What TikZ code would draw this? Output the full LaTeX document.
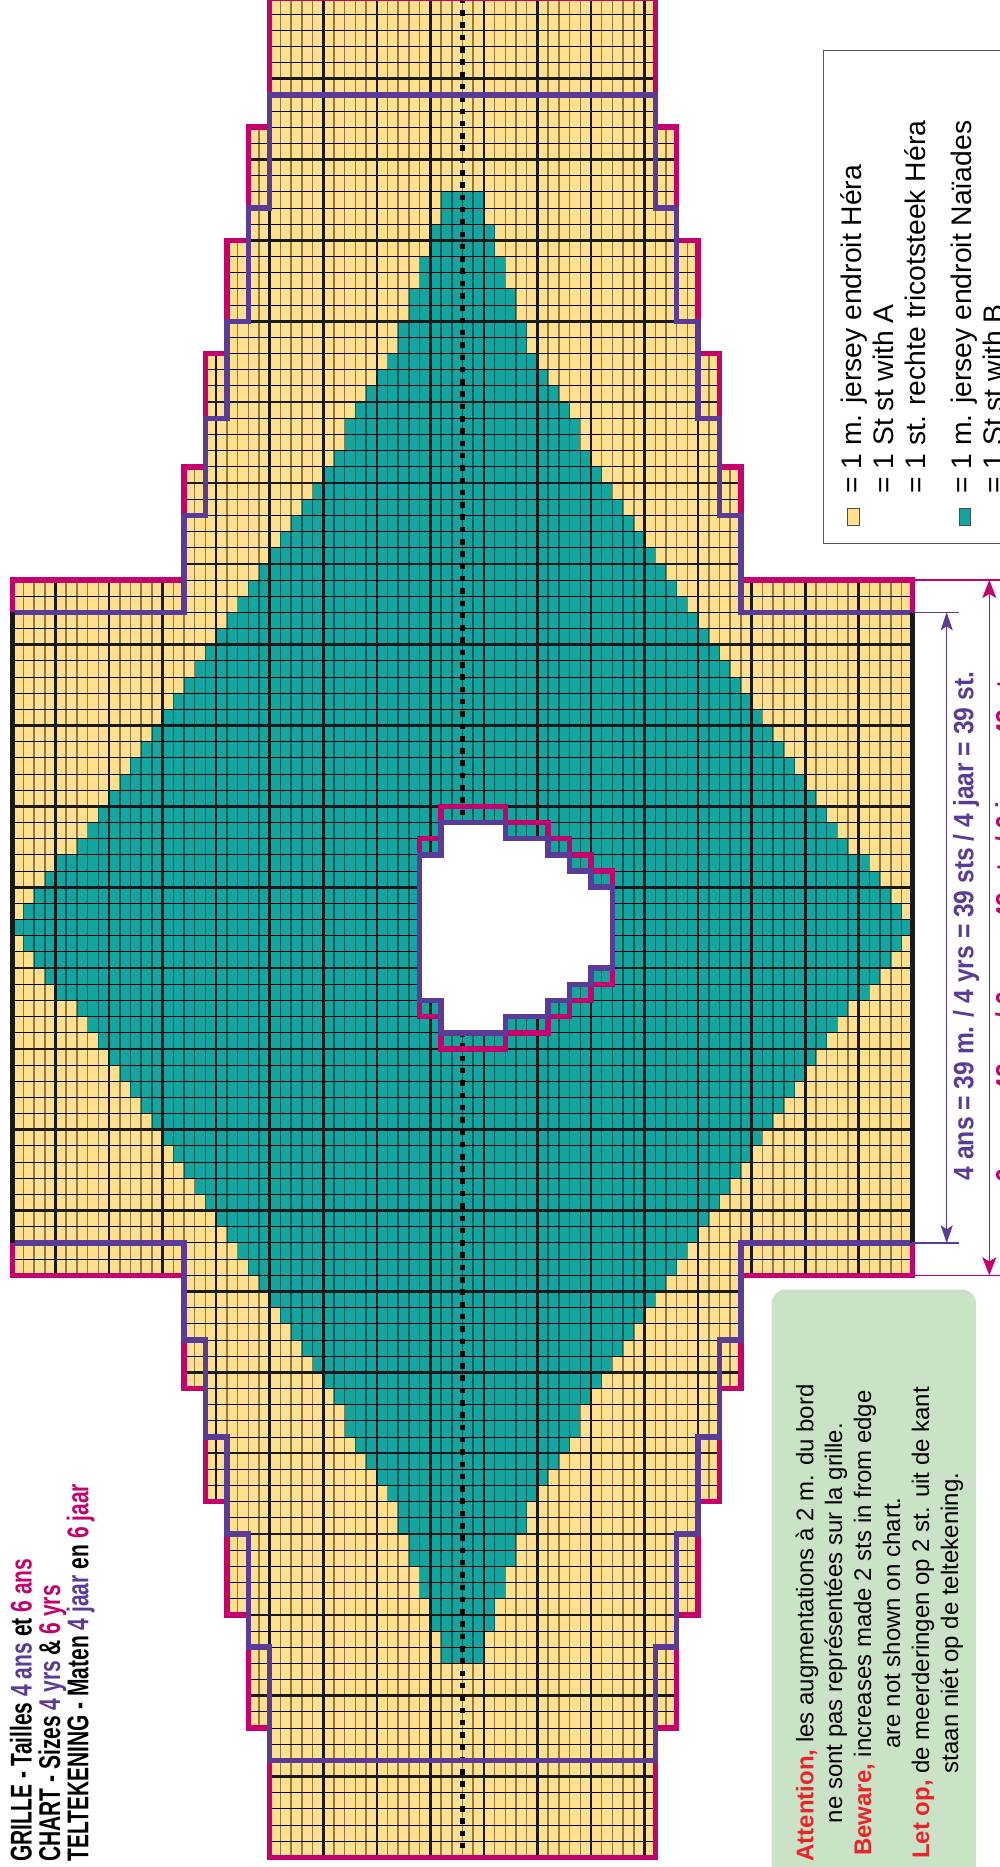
\documentclass[tikz,border=0pt]{standalone}
\usepackage{fontspec}
\setmainfont{Liberation Sans}
\newfontfamily\cond[FakeStretch=0.88]{Liberation Sans}
\newfontfamily\tcond[FakeStretch=0.70]{Liberation Sans}
\usetikzlibrary{arrows.meta}
\definecolor{yel}{HTML}{FFE08F}
\definecolor{tealc}{HTML}{13A6A1}
\definecolor{mag}{HTML}{C6006C}
\definecolor{pur}{HTML}{5A3B97}
\definecolor{notebg}{HTML}{CAE3C6}
\definecolor{attn}{HTML}{EE2229}
\definecolor{legline}{HTML}{555555}
\begin{document}
\begin{tikzpicture}[x=1pt,y=-1pt,
  finev/.style={black,opacity=0.45,line width=1.5pt},
  fineh/.style={black,line width=1.0pt},
  heavy/.style={black!90,line width=2.6pt},
  magline/.style={mag,line width=5.5pt,line join=miter},
  purline/.style={pur,line width=5.5pt,line join=miter},
  edgeline/.style={black!90,line width=5.5pt},
  dimp/.style={pur,line width=1.2pt},
  dimm/.style={mag,line width=1.2pt},
  legtxt/.style={rotate=90,anchor=base west,inner sep=0pt,font=\fontsize{28.3}{30}\selectfont},
  notetxt/.style={rotate=90,anchor=base,inner sep=0pt,font=\fontsize{24}{28}\selectfont},
  titletxt/.style={rotate=90,anchor=base west,inner sep=0pt,font=\fontsize{30}{32}\selectfont\tcond\bfseries},
  dimtxt/.style={rotate=90,anchor=base,inner sep=0pt,font=\fontsize{28}{30}\selectfont\cond\bfseries}
]
\useasboundingbox (0,0) rectangle (999,1867);
\def\nlist{{0,1,2,3,4,4,5,6,7,8,9,10,11,12,13,14,15,16,17,18,19,20,21,22,23,24,25,26,27,28,29,31,32,33,34,35,37,39,41,43,45,45}}

% ---------------- chart (cell coordinates: r = row from right, s = stitch from top of body)
\begin{scope}[shift={(912.3,580)},x={(-10.71pt,0pt)},y={(0pt,-16.17pt)}]
  \def\outerpath{(84,0) -- (68,0) -- (68,-7) -- (66,-7) -- (66,-14) -- (64,-14) -- (64,-21) -- (62,-21) -- (62,-28) -- (60,-28) -- (60,-36) -- (24,-36) -- (24,-28) -- (22,-28) -- (22,-21) -- (20,-21) -- (20,-14) -- (18,-14) -- (18,-7) -- (16,-7) -- (16,0) -- (0,0) -- (0,43) -- (16,43) -- (16,50) -- (18,50) -- (18,57) -- (20,57) -- (20,64) -- (22,64) -- (22,71) -- (24,71) -- (24,79) -- (60,79) -- (60,71) -- (62,71) -- (62,64) -- (64,64) -- (64,57) -- (66,57) -- (66,50) -- (68,50) -- (68,43) -- (84,43) -- cycle}
  \begin{scope}
    \clip \outerpath;
    \fill[yel] (-1,-40) rectangle (85,82);
    \foreach \i in {0,...,83}{
      \pgfmathtruncatemacro\k{min(\i,83-\i)}
      \pgfmathtruncatemacro\n{\nlist[\k]}
      \fill[tealc] (\i,21-\n) rectangle (\i+1,22+\n);
    }
    \foreach \r in {0,...,84} \draw[finev] (\r,-37) -- (\r,80);
    \foreach \s in {-36,...,79} \draw[fineh] (-1,\s) -- (85,\s);
    \foreach \r in {0,5,...,80} \draw[heavy] (\r,-37) -- (\r,80);
    \foreach \s in {-36,-31,...,79} \draw[heavy] (-1,\s) -- (85,\s);
  \end{scope}
  % centre line
  \draw[black,line width=4.3pt,dash pattern=on 5.5pt off 6.8pt] (42,-36) -- (42,79);
  % neck opening
  \fill[white] (46,17) -- (44,17) -- (44,15) -- (38,15) -- (38,16) -- (34,16) -- (34,17) -- (32,17) -- (32,18) -- (30,18) -- (30,19) -- (28,19) -- (28,24) -- (30,24) -- (30,25) -- (32,25) -- (32,26) -- (34,26) -- (34,27) -- (38,27) -- (38,28) -- (44,28) -- (44,26) -- (46,26) -- cycle;
  \draw[magline] (46,16) -- (44,16) -- (44,14) -- (38,14) -- (38,15) -- (34,15) -- (34,16) -- (32,16) -- (32,17) -- (30,17) -- (30,18) -- (28,18) -- (28,25) -- (30,25) -- (30,26) -- (32,26) -- (32,27) -- (34,27) -- (34,28) -- (38,28) -- (38,29) -- (44,29) -- (44,27) -- (46,27) -- cycle;
  \draw[purline] (46,17) -- (44,17) -- (44,15) -- (38,15) -- (38,16) -- (34,16) -- (34,17) -- (32,17) -- (32,18) -- (30,18) -- (30,19) -- (28,19) -- (28,24) -- (30,24) -- (30,25) -- (32,25) -- (32,26) -- (34,26) -- (34,27) -- (38,27) -- (38,28) -- (44,28) -- (44,26) -- (46,26) -- cycle;
  % outlines
  \draw[magline] \outerpath;
  \draw[purline] (84,2) -- (68,2) -- (68,-4) -- (66,-4) -- (66,-10) -- (64,-10) -- (64,-16) -- (62,-16) -- (62,-23) -- (60,-23) -- (60,-30) -- (24,-30) -- (24,-23) -- (22,-23) -- (22,-16) -- (20,-16) -- (20,-10) -- (18,-10) -- (18,-4) -- (16,-4) -- (16,2) -- (0,2);
  \draw[purline] (0,41) -- (16,41) -- (16,47) -- (18,47) -- (18,53) -- (20,53) -- (20,59) -- (22,59) -- (22,66) -- (24,66) -- (24,73) -- (60,73) -- (60,66) -- (62,66) -- (62,59) -- (64,59) -- (64,53) -- (66,53) -- (66,47) -- (68,47) -- (68,41) -- (84,41);
  \draw[edgeline] (84,2) -- (84,41);
  \draw[edgeline] (0,2) -- (0,41);
  \coordinate (pt) at (0,2); \coordinate (pb) at (0,41);
  \coordinate (mt) at (0,0); \coordinate (mb) at (0,43);
\end{scope}

% dimension lines
\draw[dimp] (pt) -- ++(47,0);
\draw[dimp] (pb) -- ++(47,0);
\draw[dimm] (mt) -- ++(90,0);
\draw[dimm] (mb) -- ++(90,0);
\draw[dimp,{Stealth[length=18pt,width=12pt,inset=4pt]}-{Stealth[length=18pt,width=12pt,inset=4pt]}] (946.7,612.3) -- (946.7,1243.3);
\draw[dimm,{Stealth[length=18pt,width=14pt,inset=4pt]}-{Stealth[length=18pt,width=14pt,inset=4pt]}] (989.3,580) -- (989.3,1275.3);
\node[dimtxt,text=pur] at (973.3,926) {4 ans = 39 m. / 4 yrs = 39 sts / 4 jaar = 39 st.};
\node[dimtxt,text=mag] at (1015.5,928) {6 ans = 43 m. / 6 yrs = 43 sts / 6 jaar = 43 st.};

% legend
\draw[legline,line width=1pt] (1010,51) -- (823.3,51) -- (823.3,543.3) -- (1010,543.3);
\draw[black!70,line width=0.8pt,fill=yel] (847.7,508.3) rectangle (859,525);
\draw[black!70,line width=0.8pt,fill=tealc] (959.3,508.3) rectangle (970.7,525);
\node[legtxt] at (861.7,494) {= 1 m. jersey endroit Héra};
\node[legtxt] at (893.4,494) {= 1 St st with A};
\node[legtxt] at (925.1,494) {= 1 st. rechte tricotsteek Héra};
\node[legtxt] at (971.7,494) {= 1 m. jersey endroit Naïades};
\node[legtxt] at (1003.4,494) {= 1 St st with B};

% note box
\fill[notebg,rounded corners=14pt] (771.6,1289.5) rectangle (976,1960);
\node[notetxt] at (813.3,1623) {\textcolor{attn}{\bfseries Attention,} les augmentations à 2 m. du bord};
\node[notetxt] at (842,1623) {ne sont pas représentées sur la grille.};
\node[notetxt] at (871,1623) {\textcolor{attn}{\bfseries Beware,} increases made 2 sts in from edge};
\node[notetxt] at (900,1623) {are not shown on chart.};
\node[notetxt] at (929,1623) {\textcolor{attn}{\bfseries Let op,} de meerderingen op 2 st. uit de kant};
\node[notetxt] at (958,1623) {staan niét op de teltekening.};

% title
\node[titletxt] at (31.7,1862) {GRILLE - Tailles \textcolor{pur}{4 ans} et \textcolor{mag}{6 ans}};
\node[titletxt] at (60,1862) {CHART - Sizes \textcolor{pur}{4 yrs} \& \textcolor{mag}{6 yrs}};
\node[titletxt] at (88.3,1862) {TELTEKENING - Maten \textcolor{pur}{4 jaar} en \textcolor{mag}{6 jaar}};
\end{tikzpicture}
\end{document}
